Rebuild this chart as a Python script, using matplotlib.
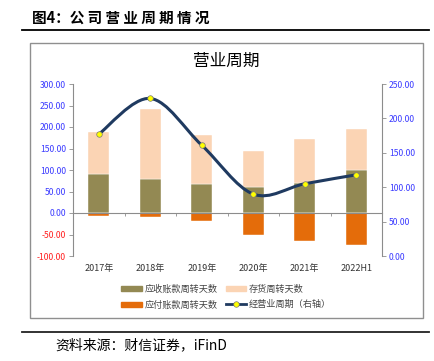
import matplotlib
matplotlib.use("Agg")
import matplotlib.pyplot as plt
from matplotlib.path import Path
from matplotlib.patches import PathPatch, Patch, Rectangle
from matplotlib.lines import Line2D
import matplotlib.transforms as mtransforms
import numpy as np

plt.rcParams['font.family'] = ['Noto Sans CJK SC', 'DejaVu Sans']

categories = ['2017年', '2018年', '2019年', '2020年', '2021年', '2022H1']
receivable_days = [91, 80, 68, 61, 70, 99]
inventory_days = [97, 162, 114, 84, 101, 97]
payable_days = [-8, -9, -18, -52, -64, -75]
operating_cycle = [177, 229, 161, 90, 105, 118]

left_ticks = [-100, -50, 0, 50, 100, 150, 200, 250, 300]
right_ticks = [0, 50, 100, 150, 200, 250]

c_rec = '#938953'
c_inv = '#FBD4B4'
c_pay = '#E46C0A'
c_line = '#1F3A60'
c_blue = '#3B3BFF'
c_red = '#FF2020'
c_grey = '#8C8C8C'

W, H = 434, 361
fig = plt.figure(figsize=(W / 100, H / 100), dpi=100)

# header title and rules
fig.text(32 / W, 1 - 18 / H, '图4：公 司 营 业 周 期 情 况', fontsize=10.5, fontweight='bold',
         ha='left', va='center', color='black')
fig.add_artist(Line2D([22 / W, 429 / W], [1 - 30 / H, 1 - 30 / H], color='black', lw=1.3))
fig.add_artist(Line2D([22 / W, 429 / W], [1 - 332 / H, 1 - 332 / H], color='#222222', lw=1.3))
# chart box
fig.add_artist(Rectangle((30 / W, 1 - 318 / H), (423 - 30) / W, (318 - 43) / H,
                         fill=False, edgecolor='#8F8F8F', lw=1.0, transform=fig.transFigure))
fig.text(226 / W, 1 - 61 / H, '营业周期', fontsize=12, ha='center', va='center', color='black')

fig.text(55 / W, 1 - 345 / H, '资料来源：财信证券，iFinD', fontsize=10, fontstyle='italic',
         ha='left', va='center', color='black')

ax = fig.add_axes([73 / W, 1 - 256 / H, (382 - 73) / W, (256 - 84) / H])
x = np.arange(len(categories))
bw = 0.41
ax.bar(x, receivable_days, bw, color=c_rec, edgecolor='white', linewidth=0.3, zorder=2)
ax.bar(x, inventory_days, bw, bottom=receivable_days, color=c_inv, edgecolor='white', linewidth=0.3, zorder=2)
ax.bar(x, payable_days, bw, color=c_pay, edgecolor='white', linewidth=0.3, zorder=2)

ax.set_xlim(-0.5, len(categories) - 0.5)
ax.set_ylim(-100, 300)
ax.set_yticks(left_ticks)
ax.set_yticklabels([f'{v:.2f}' for v in left_ticks], fontsize=6.2)
for lab, v in zip(ax.get_yticklabels(), left_ticks):
    lab.set_color(c_red if v < 0 else c_blue)
ax.tick_params(axis='y', direction='out', length=3, width=0.6, color=c_grey, pad=2)
ax.spines['left'].set_color(c_grey)
ax.spines['left'].set_linewidth(0.8)
ax.spines['top'].set_visible(False)
ax.spines['right'].set_visible(False)
ax.spines['bottom'].set_position(('data', 0))
ax.spines['bottom'].set_color(c_grey)
ax.spines['bottom'].set_linewidth(0.8)
ax.set_xticks(np.arange(len(categories) + 1) - 0.5)
ax.set_xticklabels([])
ax.tick_params(axis='x', direction='out', length=2.5, width=0.6, color=c_grey)
trans = mtransforms.blended_transform_factory(ax.transData, ax.transAxes)
for xi, c in zip(x, categories):
    ax.text(xi, -0.07, c, transform=trans, ha='center', va='center', fontsize=6.5, color='#333333')

ax2 = ax.twinx()
ax2.set_ylim(0, 250)
ax2.set_yticks(right_ticks)
ax2.set_yticklabels([f'{v:.2f}' for v in right_ticks], fontsize=6.2, color=c_blue)
ax2.tick_params(axis='y', direction='out', length=3, width=0.6, color=c_grey, pad=2)
for s in ['top', 'bottom', 'left']:
    ax2.spines[s].set_visible(False)
ax2.spines['right'].set_color(c_grey)
ax2.spines['right'].set_linewidth(0.8)

# smoothed line (Catmull-Rom Bezier through data points)
pts = np.column_stack([x, operating_cycle]).astype(float)
n = len(pts)
verts = [tuple(pts[0])]
codes = [Path.MOVETO]
for i in range(n - 1):
    p0 = pts[i - 1] if i > 0 else pts[i]
    p1 = pts[i]
    p2 = pts[i + 1]
    p3 = pts[i + 2] if i + 2 < n else pts[i + 1]
    c1 = p1 + (p2 - p0) / 6
    c2 = p2 - (p3 - p1) / 6
    verts += [tuple(c1), tuple(c2), tuple(p2)]
    codes += [Path.CURVE4] * 3
ax2.add_patch(PathPatch(Path(verts, codes), fill=False, edgecolor=c_line, lw=2.2, zorder=3))
ax2.plot(x, operating_cycle, ls='none', marker='o', ms=4, mfc='#FFFF00', mec='#777777', mew=0.5, zorder=4)

handles = [
    Patch(color=c_rec, label='应收账款周转天数'),
    Patch(color=c_pay, label='应付账款周转天数'),
    Patch(color=c_inv, label='存货周转天数'),
    Line2D([], [], color=c_line, lw=2, marker='o', ms=4, mfc='#FFFF00', mec='#777777', mew=0.5,
           label='经营业周期（右轴）'),
]
fig.legend(handles=handles, ncol=2, loc='center', bbox_to_anchor=(226 / W, 1 - 297 / H),
           frameon=False, fontsize=6.6, handlelength=2.2, handleheight=0.5, columnspacing=0.9,
           labelspacing=0.7, handletextpad=0.3, labelcolor='#444444')

fig.savefig('out.png', dpi=100)
